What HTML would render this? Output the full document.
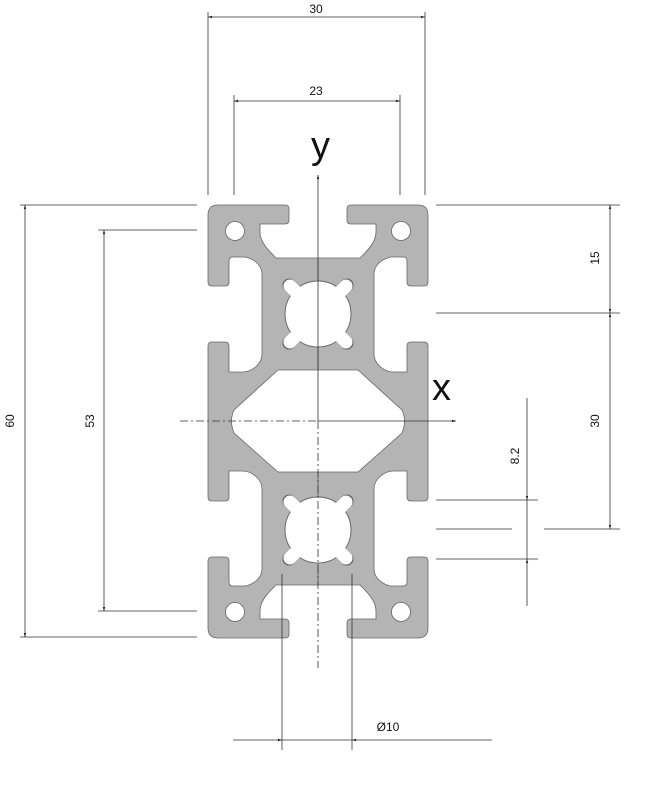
<!DOCTYPE html>
<html><head><meta charset="utf-8"><style>
html,body{margin:0;padding:0;background:#fff;width:668px;height:800px;overflow:hidden}
svg{display:block}
text{font-family:"Liberation Sans",sans-serif;fill:#111}
</style></head><body>
<svg width="668" height="800" viewBox="0 0 668 800" xmlns="http://www.w3.org/2000/svg">
<defs>
<marker id="a" viewBox="0 0 10 10" refX="10" refY="5" markerWidth="5" markerHeight="5" orient="auto-start-reverse"><path d="M0,2 L10,5 L0,8 Z" fill="#222"/></marker>
<path id="half" d="M318,258 L276,258 C268,250 260,242 260,232 L260,224 L285,224 Q289,224 289,220 L289,209 Q289,205 285,205 L218,205 Q208,205 208,215 L208,282 Q208,286 212,286 L225,286 Q229,286 229,282 L229,261 Q229,257 233,257 L245,257 C255,259 262,266 262,274 L262,354 C262,364 252,372 242,372 L229,372 L229,346 Q229,342 225,342 L212,342 Q208,342 208,346 L208,497 Q208,501 212,501 L225,501 Q229,501 229,497 L229,471 L242,471 C252,471 262,479 262,489 L262,569 C262,577 255,584 245,586 L233,586 Q229,586 229,582 L229,561 Q229,557 225,557 L212,557 Q208,557 208,561 L208,628 Q208,638 218,638 L285,638 Q289,638 289,634 L289,623 Q289,619 285,619 L260,619 L260,611 C260,601 268,593 276,585 L318,585 Z"/>
<g id="star">
<circle cx="0" cy="0" r="32"/>
<path d="M-20,-20 L-28,-28 M20,-20 L28,-28 M-20,20 L-28,28 M20,20 L28,28" stroke-width="13" stroke-linecap="round"/>
</g>
</defs>
<g fill="#b4b4b4" stroke="#666" stroke-width="0.8">
<use href="#half"/>
<use href="#half" transform="translate(636,0) scale(-1,1)"/>
</g>
<g fill="#fff" stroke="#666" stroke-width="0.8">
<path d="M278,370 L358,370 L402,410 Q407,421 402,433 L358,472 L278,472 L234,433 Q229,421 234,410 Z"/>
<circle cx="235" cy="231" r="9.5"/><circle cx="401" cy="231" r="9.5"/>
<circle cx="235" cy="612" r="9.5"/><circle cx="401" cy="612" r="9.5"/>
</g>
<!-- star holes: outline then fill -->
<g fill="#666" stroke="#666">
<use href="#star" transform="translate(318,314) scale(1.03)"/>
<use href="#star" transform="translate(318,530) scale(1.03)"/>
</g>
<g fill="#fff" stroke="#fff">
<use href="#star" transform="translate(318,314)"/>
<use href="#star" transform="translate(318,530)"/>
</g>
<!-- axes -->
<g stroke="#333" stroke-width="0.8" fill="none">
<line x1="318" y1="175" x2="318" y2="421" marker-start="url(#a)"/>
<line x1="318" y1="421" x2="318" y2="668" stroke-dasharray="8,3,2,3"/>
<line x1="180" y1="421" x2="318" y2="421" stroke-dasharray="8,3,2,3"/>
<line x1="318" y1="421" x2="456" y2="421" marker-end="url(#a)"/>
</g>
<text x="311" y="158" font-size="38">y</text>
<text x="432" y="400" font-size="38">x</text>
<!-- dimensions -->
<g stroke="#333" stroke-width="0.8" fill="none">
<line x1="208" y1="12" x2="208" y2="195"/><line x1="425" y1="12" x2="425" y2="195"/>
<line x1="208" y1="17" x2="425" y2="17" marker-start="url(#a)" marker-end="url(#a)"/>
<line x1="234" y1="95" x2="234" y2="195"/><line x1="400" y1="95" x2="400" y2="195"/>
<line x1="234" y1="101" x2="400" y2="101" marker-start="url(#a)" marker-end="url(#a)"/>
<line x1="20" y1="205" x2="197" y2="205"/><line x1="20" y1="637" x2="197" y2="637"/>
<line x1="25" y1="205" x2="25" y2="637" marker-start="url(#a)" marker-end="url(#a)"/>
<line x1="98" y1="230" x2="197" y2="230"/><line x1="98" y1="611" x2="197" y2="611"/>
<line x1="104" y1="230" x2="104" y2="611" marker-start="url(#a)" marker-end="url(#a)"/>
<line x1="436" y1="205" x2="620" y2="205"/><line x1="436" y1="313" x2="620" y2="313"/>
<line x1="610" y1="205" x2="610" y2="313" marker-start="url(#a)" marker-end="url(#a)"/>
<line x1="610" y1="313" x2="610" y2="529" marker-start="url(#a)" marker-end="url(#a)"/>
<line x1="544" y1="529" x2="620" y2="529"/><line x1="436" y1="529" x2="512" y2="529"/>
<line x1="436" y1="500" x2="538" y2="500"/><line x1="436" y1="559" x2="538" y2="559"/>
<line x1="527" y1="398" x2="527" y2="500" marker-end="url(#a)"/>
<line x1="527" y1="606" x2="527" y2="559" marker-end="url(#a)"/>
<line x1="527" y1="500" x2="527" y2="559"/>
<line x1="282" y1="574" x2="282" y2="750"/><line x1="352" y1="574" x2="352" y2="750"/>
<line x1="233" y1="740" x2="282" y2="740" marker-end="url(#a)"/>
<line x1="492" y1="740" x2="352" y2="740" marker-end="url(#a)"/>
<line x1="282" y1="740" x2="352" y2="740"/>
</g>
<g font-size="12" text-anchor="middle">
<text x="316" y="13">30</text>
<text x="316" y="95">23</text>
<text x="388" y="731">Ø10</text>
<text transform="translate(14,421) rotate(-90)">60</text>
<text transform="translate(94,421) rotate(-90)">53</text>
<text transform="translate(599,258) rotate(-90)">15</text>
<text transform="translate(599,421) rotate(-90)">30</text>
<text transform="translate(519,456) rotate(-90)">8.2</text>
</g>
</svg>
</body></html>
